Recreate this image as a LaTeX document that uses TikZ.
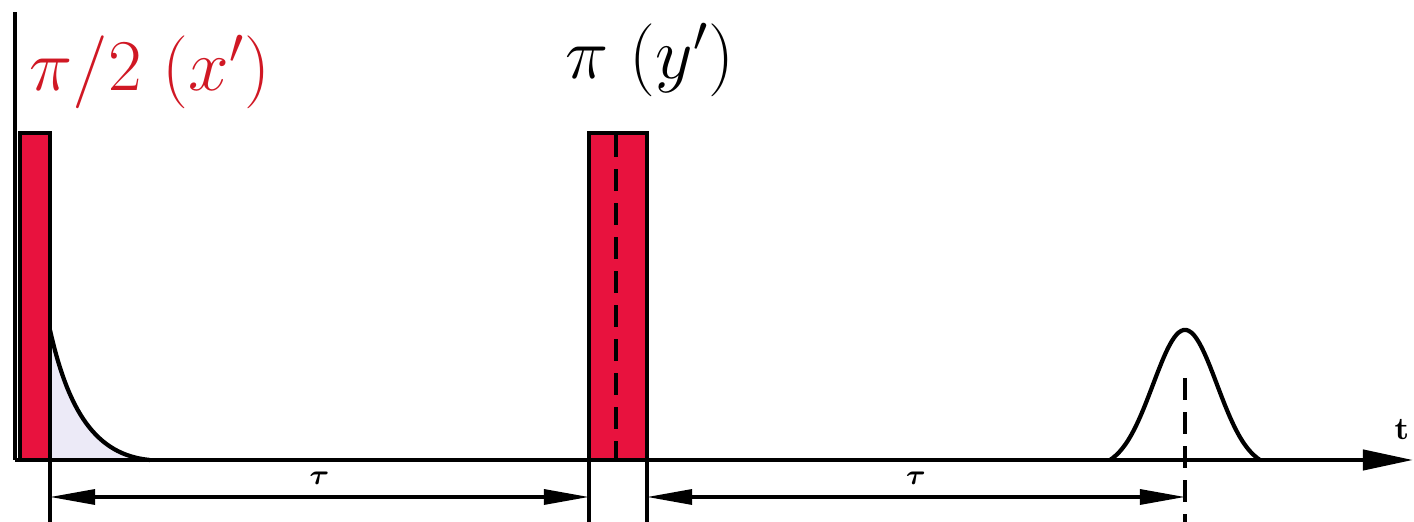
\documentclass[tikz,border=0pt]{standalone}
\usepackage{xcolor}
\usepackage{amsmath}
\usepackage{tikz}
\usetikzlibrary{arrows.meta,positioning,calc}
\definecolor{pulsered}{RGB}{232,18,62}
\definecolor{labelred}{RGB}{208,24,36}
\definecolor{decayfill}{RGB}{236,234,247}
\tikzset{
  pulsebox/.style={fill=pulsered,draw=black,line width=1.1pt},
  dimline/.style={{Triangle[length=0.45cm,width=0.15cm]}-{Triangle[length=0.45cm,width=0.15cm]},line width=0.9pt},
  extline/.style={line width=0.9pt},
  centreline/.style={line width=0.9pt,dash pattern=on 0.22cm off 0.12cm},
  pulselabel/.style={font=\fontsize{20}{24}\selectfont},
  taulabel/.style={midway,yshift=0.19cm,inner sep=0pt,font=\footnotesize},
}

\begin{document}
\begin{tikzpicture}[x=0.01cm,y=-0.01cm,line width=1.2pt]
\useasboundingbox (0,0) rectangle (1414,522);
% axes
\coordinate (origin) at (15,460);
\coordinate (yend) at (15,12);
\coordinate (tend) at (1413,460);
\draw (origin) -- (yend);
% decay after the first pulse
\fill[decayfill] (50,330) .. controls (68,410) and (95,455) .. (150,460) -- (50,460) -- cycle;
\draw (50,330) .. controls (68,410) and (95,455) .. (150,460);
% pulses
\draw[pulsebox] (20,133) rectangle (50,460);
\draw[pulsebox] (589,133) rectangle (647,460);
\draw[centreline] (616,135) -- (616,460);
% echo
\draw plot[domain=1110:1260,samples=60,smooth] (\x,{460-139*(exp(-((\x-1185)^2)/2048)-0.064)});
\draw[centreline] (1185,378) -- (1185,522);
\draw[-{Triangle[length=0.5cm,width=0.2cm]}] (origin) -- (tend);
\node[font=\bfseries\small] (tlab) at (1402,430) {t};
% extension lines
\coordinate (ea) at (50,497);
\coordinate (eb) at (589,497);
\coordinate (ec) at (647,497);
\coordinate (ed) at (1185,497);
\draw[extline] (50,460) -- (50,522);
\draw[extline] (589,460) -- (589,522);
\draw[extline] (647,460) -- (647,522);
\draw[dimline] (ea) -- node[taulabel] (tauone) {$\boldsymbol{\tau}$} (eb);
\draw[dimline] (ec) -- node[taulabel] (tautwo) {$\boldsymbol{\tau}$} (ed);
% labels
\node[pulselabel,text=labelred] (halfpi) at (150,72) {$\pi/2\ (x')$};
\node[pulselabel] (fullpi) at (650,60) {$\pi\ (y')$};
\end{tikzpicture}
\end{document}
